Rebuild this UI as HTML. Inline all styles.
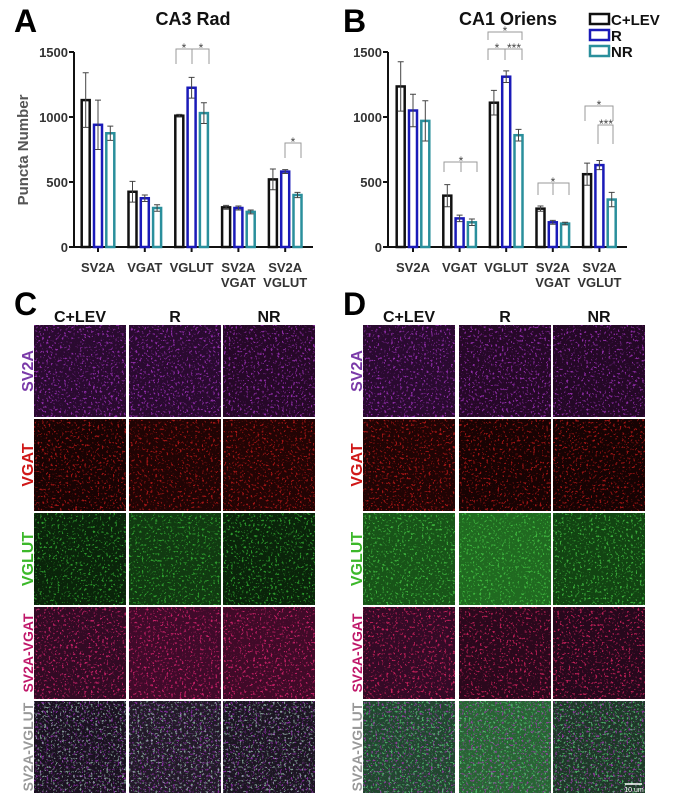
<!DOCTYPE html>
<html><head><meta charset="utf-8"><style>
html,body{margin:0;padding:0;background:#fff;}
body{width:673px;height:805px;position:relative;overflow:hidden;font-family:"Liberation Sans",Arial,sans-serif;}
svg{position:absolute;left:0;top:0;}
</style></head><body>
<svg id="fig" width="673" height="805" viewBox="0 0 673 805">
<defs id="defs"></defs>
<g id="charts"></g>
<g id="images"></g>
</svg>
<script>
// ---------- chart data ----------
const categories = [["SV2A"],["VGAT"],["VGLUT"],["SV2A","VGAT"],["SV2A","VGLUT"]];
const groups = ["C+LEV","R","NR"];
const groupColors = ["#111111","#1a1ab8","#2a8f9c"];
const yTicks = [0,500,1000,1500];
const aCtlev = [1130,425,1010,305,520];
const aR     = [940,375,1225,300,580];
const aNR    = [875,300,1030,270,400];
const aErrC  = [210,80,10,15,80];
const aErrR  = [190,25,80,15,15];
const aErrN  = [55,25,80,15,20];
const bCtlev = [1235,395,1110,295,560];
const bR     = [1050,220,1310,190,630];
const bNR    = [970,190,860,180,365];
const bErrC  = [190,85,95,20,85];
const bErrR  = [125,25,45,15,35];
const bErrN  = [155,25,45,10,55];

const NS="http://www.w3.org/2000/svg";
function mk(tag,attrs,parent){const e=document.createElementNS(NS,tag);for(const k in attrs)e.setAttribute(k,attrs[k]);parent.appendChild(e);return e;}
const charts=document.getElementById('charts');

function drawChart(cfg){
  const g=mk('g',{},charts);
  
  
  const y0=247,y1=52,vmax=1500;
  const ys=v=>y0-(v/vmax)*(y0-y1);
  const xs=i=>cfg.c0+cfg.step*i;
  const ya=mk('line',{x1:cfg.ax,y1:y1,x2:cfg.ax,y2:y0+1,stroke:'#111','stroke-width':2},g);
  
  
  const xa=mk('line',{x1:cfg.ax-1,y1:y0,x2:cfg.axEnd,y2:y0,stroke:'#111','stroke-width':2},g);
  
  
  yTicks.forEach(t=>{
    mk('line',{x1:cfg.ax-5,y1:ys(t),x2:cfg.ax,y2:ys(t),stroke:'#111','stroke-width':2},g);
    const tx=mk('text',{x:cfg.ax-6,y:ys(t)+5,'text-anchor':'end','font-size':13,'font-weight':'bold',fill:'#333'},g);
    tx.textContent=t;
    
    
  });
  const series=[cfg.c,cfg.r,cfg.n], errs=[cfg.ec,cfg.er,cfg.en];
  categories.forEach((cat,i)=>{
    const cx=xs(i);
    mk('line',{x1:cx,y1:y0,x2:cx,y2:y0+5,stroke:'#111','stroke-width':2},g);
    cat.forEach((line,j)=>{
      const t=mk('text',{x:cx,y:272+j*15,'text-anchor':'middle','font-size':13,'font-weight':'bold',fill:'#333'},g);
      t.textContent=line;
      
      
    });
    series.forEach((s,k)=>{
      const bx=cx+(k-1)*cfg.pitch;
      const top=ys(s[i]);
      const b=mk('rect',{x:bx-cfg.bw/2+1.25,y:top,width:cfg.bw-2.5,height:y0-top,fill:'#fff',stroke:groupColors[k],'stroke-width':2.5},g);
      
      
      const e=errs[k][i];
      const eb=mk('path',{d:`M${bx},${ys(s[i]-e)}V${ys(s[i]+e)}M${bx-3},${ys(s[i]+e)}H${bx+3}M${bx-3},${ys(s[i]-e)}H${bx+3}`,stroke:'#444','stroke-width':1,fill:'none'},g);
      
      
    });
  });
  if(cfg.ytitle){
    const t=mk('text',{x:0,y:0,transform:'translate(28,150) rotate(-90)','text-anchor':'middle','font-size':15,'font-weight':'bold',fill:'#555'},g);
    t.textContent='Puncta Number';
    
    
  }
  const tt=mk('text',{x:cfg.titleX,y:25,'text-anchor':'middle','font-size':18,'font-weight':'bold',fill:'#111'},g);
  tt.textContent=cfg.title;
  
  
  const pl=mk('text',{x:cfg.letterX,y:32,'font-size':32,'font-weight':'bold',fill:'#000'},g);
  pl.textContent=cfg.letter;
  
  
  cfg.sig.forEach(s=>{
    let d=`M${s.x1},${s.yb}V${s.y}H${s.x2}V${s.yb}`;
    if(s.xm) d+=`M${s.xm},${s.y}V${s.yb}`;
    const p=mk('path',{d:d,stroke:'#999','stroke-width':1,fill:'none'},g);
    
    
    s.stars.forEach(st=>{
      const t=mk('text',{x:st[0],y:s.y+3,'text-anchor':'middle','font-size':12,fill:'#444'},g);
      t.textContent=st[1];
      
      
    });
  });
}

drawChart({name:'chart-ca3-rad',ax:74,axEnd:313,c0:98,step:46.8,pitch:12.3,bw:10.5,c:aCtlev,r:aR,n:aNR,ec:aErrC,er:aErrR,en:aErrN,ytitle:true,title:'CA3 Rad',titleX:193,letter:'A',letterX:14,
  sig:[{x1:176,x2:209,xm:192,y:49,yb:64,stars:[[184,'*'],[201,'*']]},{x1:285,x2:301,y:143,yb:158,stars:[[293,'*']]}]});
drawChart({name:'chart-ca1-oriens',ax:388,axEnd:627,c0:413,step:46.6,pitch:12.3,bw:10.5,c:bCtlev,r:bR,n:bNR,ec:bErrC,er:bErrR,en:bErrN,ytitle:false,title:'CA1 Oriens',titleX:508,letter:'B',letterX:343,
  sig:[{x1:488,x2:522,y:32,yb:40,stars:[[505,'*']]},{x1:488,x2:522,xm:505,y:49,yb:60,stars:[[497,'*'],[514,'***']]},
       {x1:444,x2:477,xm:461,y:162,yb:172,stars:[[461,'*']]},{x1:538,x2:569,xm:553,y:183,yb:195,stars:[[553,'*']]},
       {x1:585,x2:613,y:106,yb:121,stars:[[599,'*']]},{x1:598,x2:613,y:125,yb:144,stars:[[606,'***']]}]});

(function(){
  const g=mk('g',{},charts);
  
  
  const ly=[13,29,45];
  groups.forEach((nm,k)=>{
    const e=mk('g',{},g);
    
    
    mk('rect',{x:590,y:ly[k]+1,width:19,height:10,fill:'#fff',stroke:groupColors[k],'stroke-width':2.5},e);
    const t=mk('text',{x:611,y:ly[k]+12,'font-size':15,'font-weight':'bold',fill:'#111'},e);
    t.textContent=nm;
  });
})();

// ---------- micrograph panels ----------
const defs=document.getElementById('defs');
for(let s=0;s<8;s++){
  const f=mk('filter',{id:'spk'+s,x:0,y:0,width:'100%',height:'100%'},defs);
  mk('feTurbulence',{type:'fractalNoise',baseFrequency:0.45,numOctaves:2,seed:s*7+3,result:'t'},f);
  mk('feColorMatrix',{in:'t',type:'matrix',values:'0 0 0 0 0  0 0 0 0 0  0 0 0 0 0  9 0 0 0 -5.4',result:'a'},f);
  mk('feComposite',{in:'SourceGraphic',in2:'a',operator:'in'},f);
}
const images=document.getElementById('images');
const rowsY=[325,419,513,607,701], rowH=92;
const rowNames=['SV2A','VGAT','VGLUT','SV2A-VGAT','SV2A-VGLUT'];
const rowLabelColors=['#7a3aa8','#d01818','#3cb82a','#c0186a','#999999'];
const colNames=['C+LEV','R','NR'];
const panels=[
 {letter:'C',lx:14,cols:[34,129,223],w:92,labelX:27,
  bases:[['#2a0a30','#2a0a30','#260828'],['#180303','#200404','#220404'],['#0a240a','#113a11','#0a240a'],['#320a24','#400a2a','#400a28'],['#1a1220','#221a28','#1c1622']],
  spk:[['#b038d0'],['#d01a1a'],['#38c038'],['#f0287a'],['#a030c0','#a0c8b8']]},
 {letter:'D',lx:343,cols:[363,459,553],w:92,labelX:356,
  bases:[['#2a0a30','#260828','#240826'],['#200404','#180303','#160303'],['#185418','#206a20','#124412'],['#340a26','#2a081c','#26081c'],['#224630','#286434','#1e3828']],
  spk:[['#b038d0'],['#d01a1a'],['#48d048'],['#f0286a'],['#b038c0','#58d078']]}
];
panels.forEach((p,pi)=>{
  const g=mk('g',{},images);
  
  
  const pl=mk('text',{x:p.lx,y:315,'font-size':32,'font-weight':'bold',fill:'#000'},g);
  pl.textContent=p.letter;
  
  
  p.cols.forEach((x,ci)=>{
    const t=mk('text',{x:x+p.w/2,y:322,'text-anchor':'middle','font-size':16,'font-weight':'bold',fill:'#111'},g);
    t.textContent=colNames[ci];
    
    
  });
  rowsY.forEach((y,ri)=>{
    const t=mk('text',{x:0,y:0,transform:`translate(${p.labelX+6},${y+rowH/2}) rotate(-90)`,'text-anchor':'middle','font-size':16,'font-weight':'bold',fill:rowLabelColors[ri]},g);
    t.textContent=rowNames[ri];
    if(ri>=3) t.setAttribute('font-size',14);
    
    
    p.cols.forEach((x,ci)=>{
      const cell=mk('g',{},g);
      
      
      mk('rect',{x:x,y:y,width:p.w,height:rowH,fill:p.bases[ri][ci]},cell);
      p.spk[ri].forEach((c,si)=>{
        mk('rect',{x:x,y:y,width:p.w,height:rowH,fill:c,filter:`url(#spk${(ri*3+ci+si*5+pi*2)%8})`,opacity:0.75},cell);
      });
    });
  });
});
(function(){
  const g=mk('g',{},images);
  
  
  mk('line',{x1:625,y1:784,x2:642,y2:784,stroke:'#fff','stroke-width':1.5},g);
  const t=mk('text',{x:634,y:792,'text-anchor':'middle','font-size':7,fill:'#fff'},g);
  t.textContent='10 um';
})();
</script>
</body></html>
